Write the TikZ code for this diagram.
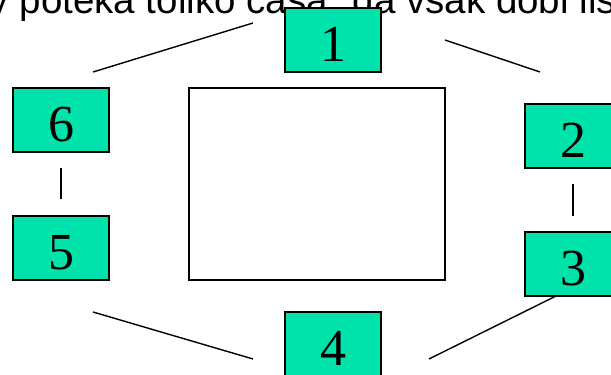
\documentclass[tikz,border=0pt]{standalone}
\usepackage{fontspec}
\setmainfont{Liberation Serif}
\newfontfamily\headfont{Liberation Sans}
\definecolor{boxgreen}{RGB}{0,227,170}
\begin{document}
\begin{tikzpicture}[x=1pt,y=1pt,
  stage/.style={draw=black, line width=1.5pt, fill=boxgreen,
    minimum width=96pt, minimum height=64pt, inner sep=0pt,
    text height=44pt, text depth=0pt,
    font=\fontsize{52}{52}\selectfont},
  frame/.style={draw=black, line width=1.5pt, minimum width=256pt,
    minimum height=192pt, inner sep=0pt},
  link/.style={draw=black, line width=1.4pt}]
\useasboundingbox (0,0) rectangle (611,375);
\clip (0,0) rectangle (611,375);

% heading line, cut by the page edges
\node[anchor=base west, inner sep=0pt, font=\headfont\fontsize{38.5}{40}\selectfont]
  (head) at (-10.5,361) {y poteka toliko časa: da vsak dobi lis};

% central table
\node[frame] (board) at (317,191) {};

% the six seats
\node[stage] (b1) at (333,335) {1};
\node[stage] (b2) at (573,239) {2};
\node[stage] (b3) at (573,111) {3};
\node[stage] (b4) at (333,31)  {4};
\node[stage] (b5) at (61,127)  {5};
\node[stage] (b6) at (61,255)  {6};

% free ends of the linking strokes
\coordinate (l61a) at (93,303);  \coordinate (l61b) at (253,352);
\coordinate (l12a) at (445,335); \coordinate (l12b) at (540,303);
\coordinate (l23a) at (573,191); \coordinate (l23b) at (573,159);
\coordinate (l65a) at (61,207);  \coordinate (l65b) at (61,176);
\coordinate (l54a) at (93,63);   \coordinate (l54b) at (253,16);
\coordinate (l43a) at (429,16);  \coordinate (l43b) at (556,79);

\draw[link] (l61a) -- (l61b);
\draw[link] (l12a) -- (l12b);
\draw[link] (l23a) -- (l23b);
\draw[link] (l65a) -- (l65b);
\draw[link] (l54a) -- (l54b);
\draw[link] (l43a) -- (l43b);
\end{tikzpicture}
\end{document}
